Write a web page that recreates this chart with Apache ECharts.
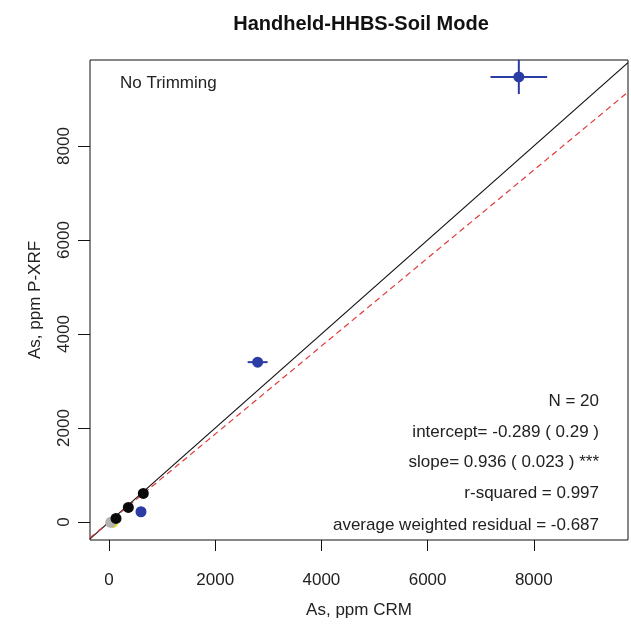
<!DOCTYPE html>
<html>
<head>
<meta charset="utf-8">
<title>Handheld-HHBS-Soil Mode</title>
<script src="https://cdn.jsdelivr.net/npm/echarts@6/dist/echarts.min.js"></script>
<style>
  html, body { margin: 0; padding: 0; background: #fff; }
  #chart { width: 631px; height: 624px; }
</style>
</head>
<body>
<div id="chart"></div>
<script>
// axis limits (R style, extended past the data)
const xLim = [-358, 9774]
const yLim = [-382, 9830]
const tickVals = [0, 2000, 4000, 6000, 8000]

// points: [CRM, P-XRF]
const blackPts = [[132, 78], [364, 312], [646, 609]]
const greyPts = [[32, -6]]
const yellowPts = [[75, -21]]
const bluePts = [[602, 219], [2799, 3402], [7718, 9470]]
// error half-widths for the blue points
const blueErrX = [0, 188, 533]
const blueErrY = [0, 60, 365]

// fit
const fitSlope = 0.936
const fitIntercept = -0.289

const statLines = [
  'N = 20',
  'intercept= -0.289 ( 0.29 )',
  'slope= 0.936 ( 0.023 ) ***',
  'r-squared = 0.997',
  'average weighted residual = -0.687'
]

const font = '"Liberation Sans", Arial, sans-serif'
const blue = '#2b3ca4'

let errData = bluePts.map((p, i) => [p[0], p[1], blueErrX[i], blueErrY[i]])

let myChart = echarts.init(document.getElementById('chart'), null, {renderer: 'canvas'})

let graphics = [
  {
    type: 'text', x: 120, y: 83,
    style: {text: 'No Trimming', font: '17px ' + font, fill: '#222', verticalAlign: 'middle'}
  }
]
let statY = [401, 432, 462, 493, 525]
statLines.forEach((t, i) => {
  graphics.push({
    type: 'text', x: 599, y: statY[i],
    style: {text: t, font: '17px ' + font, fill: '#222', align: 'right', verticalAlign: 'middle'}
  })
})

myChart.setOption({
  animation: false,
  backgroundColor: '#fff',
  title: {
    text: 'Handheld-HHBS-Soil Mode',
    left: 356, top: 9, textAlign: 'center',
    textStyle: {fontFamily: font, fontSize: 20, fontWeight: 'bold', color: '#111'}
  },
  grid: {
    left: 90, right: 3, top: 60, bottom: 83,
    show: true, borderColor: '#111', borderWidth: 1, backgroundColor: '#fff'
  },
  xAxis: {
    type: 'value', min: xLim[0], max: xLim[1],
    name: 'As, ppm CRM', nameLocation: 'middle', nameGap: 62,
    nameTextStyle: {fontFamily: font, fontSize: 17, color: '#222'},
    axisLine: {show: false, onZero: false},
    splitLine: {show: false},
    axisTick: {show: true, length: 11, lineStyle: {color: '#111'}, customValues: tickVals},
    axisLabel: {
      fontFamily: font, fontSize: 17, color: '#222', margin: 32, customValues: tickVals,
      formatter: v => String(v)
    }
  },
  yAxis: {
    type: 'value', min: yLim[0], max: yLim[1],
    name: 'As, ppm P-XRF', nameLocation: 'middle', nameGap: 46, nameRotate: 90,
    nameTextStyle: {fontFamily: font, fontSize: 17, color: '#222'},
    axisLine: {show: false, onZero: false},
    splitLine: {show: false},
    axisTick: {show: true, length: 12, lineStyle: {color: '#111'}, customValues: tickVals},
    axisLabel: {
      fontFamily: font, fontSize: 17, color: '#222', margin: 17, rotate: 90, customValues: tickVals,
      formatter: v => String(v)
    }
  },
  graphic: graphics,
  series: [
    {
      name: '1:1',
      type: 'line',
      data: [[xLim[0], xLim[0]], [xLim[1], xLim[1]]],
      symbol: 'none',
      lineStyle: {color: '#111', width: 1.2},
      z: 2
    },
    {
      name: 'fit',
      type: 'line',
      data: [[xLim[0], fitIntercept + fitSlope * xLim[0]], [xLim[1], fitIntercept + fitSlope * xLim[1]]],
      symbol: 'none',
      lineStyle: {color: '#e03a3a', width: 1.2, type: [6, 4]},
      z: 2
    },
    {
      name: 'errors',
      type: 'custom',
      data: errData,
      renderItem: function (params, api) {
        let x = api.value(0), y = api.value(1), ex = api.value(2), ey = api.value(3)
        let l = api.coord([x - ex, y]), r = api.coord([x + ex, y])
        let t = api.coord([x, y + ey]), b = api.coord([x, y - ey])
        let st = {stroke: blue, lineWidth: 2}
        return {
          type: 'group',
          children: [
            {type: 'line', shape: {x1: l[0], y1: l[1], x2: r[0], y2: r[1]}, style: st},
            {type: 'line', shape: {x1: t[0], y1: t[1], x2: b[0], y2: b[1]}, style: st}
          ]
        }
      },
      z: 3
    },
    {
      name: 'yellow', type: 'scatter', data: yellowPts,
      symbolSize: 10, itemStyle: {color: '#e6df1e', opacity: 1}, z: 4
    },
    {
      name: 'grey', type: 'scatter', data: greyPts,
      symbolSize: 11, itemStyle: {color: '#b3b3b3', opacity: 1}, z: 5
    },
    {
      name: 'black', type: 'scatter', data: blackPts,
      symbolSize: 11, itemStyle: {color: '#0a0a0a', opacity: 1}, z: 6
    },
    {
      name: 'blue', type: 'scatter', data: bluePts,
      symbolSize: 11, itemStyle: {color: blue, opacity: 1}, z: 6
    }
  ]
})
</script>
</body>
</html>
